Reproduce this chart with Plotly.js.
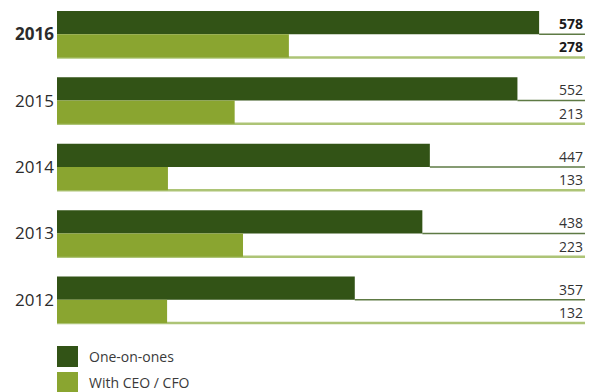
<!DOCTYPE html>
<html>
<head>
<meta charset="utf-8">
<script src="https://cdn.plot.ly/plotly-3.0.1.min.js"></script>
<style>html,body{margin:0;padding:0;background:#fff;}#chart{width:595px;height:392px;}</style>
</head>
<body>
<div id="chart"></div>
<script>
// Data
var years = ['2016', '2015', '2014', '2013', '2012'];
var yearLabels = ['<b>2016</b>', '2015', '2014', '2013', '2012'];
var oneOnOnes = [578, 552, 447, 438, 357];
var withCeoCfo = [278, 213, 133, 223, 132];
var seriesNames = ['One-on-ones', 'With CEO / CFO'];
var boldYear = '2016';

var darkColor = '#325316';
var lightColor = '#8aa530';
var darkLine = '#5e7a44';
var lightLine = '#adc476';
var xMax = 633;
var barW = 0.35;

var FONT = 'Open Sans, Noto Sans, sans-serif';

var traces = [
  {type: 'bar', orientation: 'h', y: years, x: oneOnOnes, name: seriesNames[0],
   marker: {color: darkColor}, hoverinfo: 'x'},
  {type: 'bar', orientation: 'h', y: years, x: withCeoCfo, name: seriesNames[1],
   marker: {color: lightColor}, hoverinfo: 'x'}
];

var shapes = [];
var annotations = [];
years.forEach(function (yr, i) {
  var bold = yr === boldYear;
  // dark rule from bar end to right edge
  shapes.push({type: 'line', layer: 'below', xref: 'x', yref: 'y',
    x0: oneOnOnes[i], x1: xMax, y0: i, y1: i,
    line: {color: darkLine, width: 1.5}});
  // light rule along bottom of light bar
  shapes.push({type: 'line', layer: 'below', xref: 'x', yref: 'y',
    x0: 0, x1: xMax, y0: i + barW, y1: i + barW,
    line: {color: lightLine, width: 2.5}});
  annotations.push({xref: 'x', yref: 'y', x: xMax, y: i - barW / 2,
    text: bold ? '<b>' + oneOnOnes[i] + '</b>' : String(oneOnOnes[i]),
    xanchor: 'right', yanchor: 'middle', showarrow: false, yshift: -1,
    font: {family: FONT, size: 14, color: bold ? '#1a1a1a' : '#333333'}});
  annotations.push({xref: 'x', yref: 'y', x: xMax, y: i + barW / 2,
    text: bold ? '<b>' + withCeoCfo[i] + '</b>' : String(withCeoCfo[i]),
    xanchor: 'right', yanchor: 'middle', showarrow: false, yshift: -1,
    font: {family: FONT, size: 14, color: bold ? '#1a1a1a' : '#333333'}});
});

// custom legend
var legColors = [darkColor, lightColor];
var legY = [[-0.0392, -0.1024], [-0.1175, -0.1777]];
seriesNames.forEach(function (nm, k) {
  shapes.push({type: 'rect', xref: 'paper', yref: 'paper',
    x0: 0, x1: 0.0398, y0: legY[k][1], y1: legY[k][0],
    fillcolor: legColors[k], line: {width: 0}});
  annotations.push({xref: 'paper', yref: 'paper', x: 0.0568,
    y: (legY[k][0] + legY[k][1]) / 2, text: nm, showarrow: false,
    xanchor: 'left', yanchor: 'middle',
    font: {family: FONT, size: 14, color: '#3a3a3a'}});
});

var layout = {
  width: 595, height: 392,
  margin: {l: 57, r: 10, t: 1, b: 59},
  paper_bgcolor: '#ffffff', plot_bgcolor: '#ffffff',
  barmode: 'group', bargap: 0.3, bargroupgap: 0,
  showlegend: false,
  xaxis: {range: [0, xMax], visible: false, fixedrange: true},
  yaxis: {type: 'category', autorange: 'reversed', tickmode: 'array',
    tickvals: years, ticktext: yearLabels, showgrid: false, zeroline: false,
    showline: false, ticks: '', ticklabelstandoff: 2,
    tickfont: {family: FONT, size: 17, color: '#2b2b2b'}, fixedrange: true},
  shapes: shapes,
  annotations: annotations
};

Plotly.newPlot('chart', traces, layout, {displayModeBar: false, staticPlot: true});
</script>
</body>
</html>
